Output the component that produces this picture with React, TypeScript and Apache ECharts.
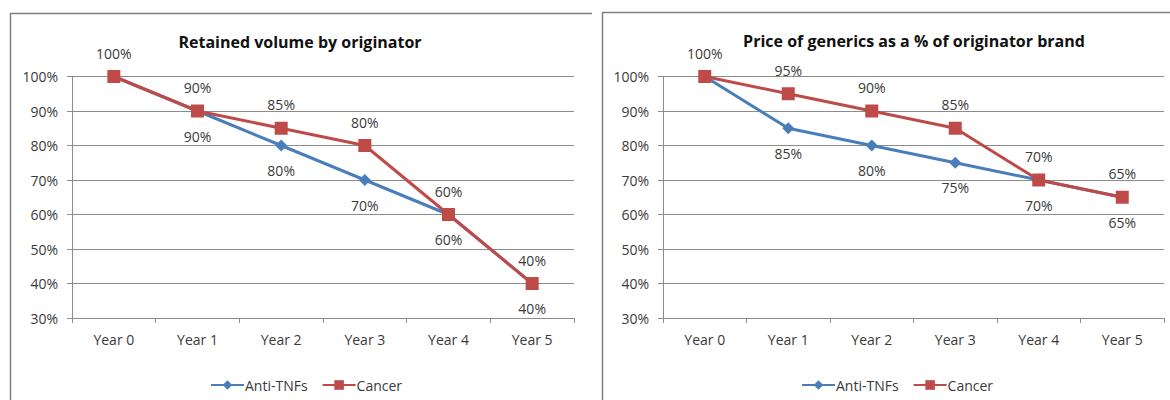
import React, { useEffect, useRef } from "react";
import * as echarts from "echarts";

const categories = ["Year 0", "Year 1", "Year 2", "Year 3", "Year 4", "Year 5"];
const volumeAntiTNF = [100, 90, 80, 70, 60, 40];
const volumeCancer = [100, 90, 85, 80, 60, 40];
const priceAntiTNF = [100, 85, 80, 75, 70, 65];
const priceCancer = [100, 95, 90, 85, 70, 65];
const titleLeft = "Retained volume by originator";
const titleRight = "Price of generics as a % of originator brand";
const seriesNames = ["Anti-TNFs", "Cancer"];

const BLUE = "#4A7EBB";
const RED = "#BE4B48";
const FONT = "'Open Sans', 'Noto Sans', sans-serif";
const TXT = "#3a3a3a";
const GRID = "#8c8c8c";

export default function App() {
  const ref = useRef<HTMLDivElement>(null);
  useEffect(() => {
    document.body.style.margin = "0";
    if (!ref.current) return;
    const chart = echarts.init(ref.current, undefined, { renderer: "svg" });

    const xAxis = (gridIndex: number) => ({
      type: "category",
      gridIndex,
      data: categories,
      boundaryGap: true,
      axisLine: { lineStyle: { color: GRID, width: 1 } },
      axisTick: { show: true, length: 5, interval: 0, lineStyle: { color: GRID } },
      axisLabel: { color: TXT, fontFamily: FONT, fontSize: 14, margin: 14, interval: 0 },
      splitLine: { show: false },
    });
    const yAxis = (gridIndex: number) => ({
      type: "value",
      gridIndex,
      min: 30,
      max: 100,
      interval: 10,
      axisLine: { show: true, lineStyle: { color: GRID, width: 1 } },
      axisTick: { show: true, length: 5, lineStyle: { color: GRID } },
      axisLabel: {
        color: TXT,
        fontFamily: FONT,
        fontSize: 14,
        margin: 14,
        formatter: (v: number) => v + "%",
      },
      splitLine: { show: true, lineStyle: { color: GRID, width: 1 } },
    });

    const blueSeries = (idx: number, data: number[]) => ({
      name: seriesNames[0],
      type: "line",
      xAxisIndex: idx,
      yAxisIndex: idx,
      data,
      symbol: "diamond",
      symbolSize: 12,
      lineStyle: { color: BLUE, width: 3 },
      itemStyle: { color: BLUE },
      label: {
        show: true,
        position: "bottom",
        distance: 12,
        color: TXT,
        fontFamily: FONT,
        fontSize: 14,
        formatter: (p: any) => (p.dataIndex === 0 ? "" : p.value + "%"),
      },
      z: 2,
    });
    const redSeries = (idx: number, data: number[]) => ({
      name: seriesNames[1],
      type: "line",
      xAxisIndex: idx,
      yAxisIndex: idx,
      data,
      symbol: "rect",
      symbolSize: 13,
      lineStyle: { color: RED, width: 3 },
      itemStyle: { color: RED },
      label: {
        show: true,
        position: "top",
        distance: 10,
        color: TXT,
        fontFamily: FONT,
        fontSize: 14,
        formatter: (p: any) => p.value + "%",
      },
      z: 3,
    });

    const legend = (left: number) => ({
      left,
      top: 373,
      itemWidth: 33,
      itemHeight: 12,
      itemGap: 14,
      data: seriesNames,
      textStyle: { color: TXT, fontFamily: FONT, fontSize: 14, padding: [0, 0, 0, -4] },
      selectedMode: false,
    });

    chart.setOption({
      animation: false,
      backgroundColor: "#ffffff",
      grid: [
        { left: 72, top: 76.5, width: 502, height: 241.5 },
        { left: 663, top: 76.5, width: 501, height: 241.5 },
      ],
      xAxis: [xAxis(0), xAxis(1)],
      yAxis: [yAxis(0), yAxis(1)],
      legend: [legend(205), legend(796)],
      series: [
        blueSeries(0, volumeAntiTNF),
        redSeries(0, volumeCancer),
        blueSeries(1, priceAntiTNF),
        redSeries(1, priceCancer),
      ],
      graphic: [
        { type: "line", shape: { x1: 10.5, y1: 13, x2: 10.5, y2: 400 }, style: { stroke: "#7f7f7f", lineWidth: 1.5 } },
        { type: "line", shape: { x1: 10, y1: 13.5, x2: 592, y2: 13.5 }, style: { stroke: "#7f7f7f", lineWidth: 1.5 } },
        { type: "line", shape: { x1: 602.5, y1: 12, x2: 602.5, y2: 400 }, style: { stroke: "#7f7f7f", lineWidth: 1.5 } },
        { type: "line", shape: { x1: 602, y1: 12.5, x2: 1170, y2: 12.5 }, style: { stroke: "#7f7f7f", lineWidth: 1.5 } },
        {
          type: "text",
          x: 300,
          y: 42,
          style: { text: titleLeft, fill: "#111", font: "bold 16px 'Open Sans', sans-serif", textAlign: "center", textVerticalAlign: "middle" },
        },
        {
          type: "text",
          x: 914,
          y: 41,
          style: { text: titleRight, fill: "#111", font: "bold 16px 'Open Sans', sans-serif", textAlign: "center", textVerticalAlign: "middle" },
        },
      ],
    });
    return () => chart.dispose();
  }, []);
  return <div ref={ref} style={{ width: 1170, height: 400 }} />;
}
